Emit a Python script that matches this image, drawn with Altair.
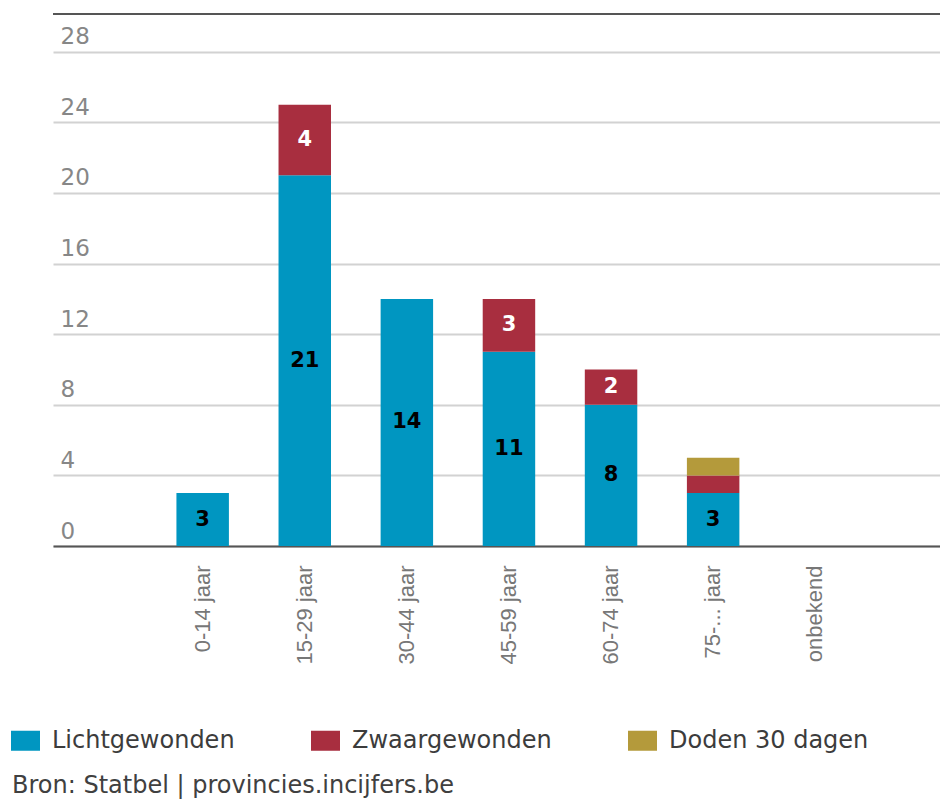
import altair as alt
import pandas as pd

categories = ["0-14 jaar", "15-29 jaar", "30-44 jaar", "45-59 jaar",
              "60-74 jaar", "75-... jaar", "onbekend"]
series = ["Lichtgewonden", "Zwaargewonden", "Doden 30 dagen"]
colors = ["#0096c1", "#a82e3f", "#b49a3b"]
licht = [3, 21, 14, 11, 8, 3, 0]
zwaar = [0, 4, 0, 3, 2, 1, 0]
doden = [0, 0, 0, 0, 0, 1, 0]
y_ticks = [0, 4, 8, 12, 16, 20, 24, 28]
Y_MAX = 30.14
source_text = "Bron: Statbel | provincies.incijfers.be"

rows = []
for idx, (name, vals) in enumerate(zip(series, [licht, zwaar, doden])):
    for cat, v in zip(categories, vals):
        rows.append({"cat": cat, "series": name, "value": v, "idx": idx})
df = pd.DataFrame(rows)

FONT = "DejaVu Sans"

# a leading blank slot keeps the empty space left of the first bar
x_domain = [""] + categories
x_scale = alt.Scale(domain=x_domain, paddingInner=0.486,
                    paddingOuter=0.587, align=0.178)
x_axis = alt.Axis(title=None, labelAngle=270, labelAlign="right",
                  labelBaseline="middle", labelPadding=19, ticks=False,
                  tickSize=0, domainColor="#555555", domainWidth=2,
                  labelFont="Liberation Sans", labelFontSize=22,
                  labelColor="#777777", labelLimit=300, grid=False)
y_scale = alt.Scale(domain=[0, Y_MAX], nice=False, zero=True)
y_axis = alt.Axis(title=None, values=y_ticks, domain=False, ticks=False,
                  tickSize=0, grid=True, gridColor="#d2d2d2",
                  gridWidth=2, labelAlign="left",
                  labelBaseline="alphabetic", labelPadding=-7,
                  labelOffset=-8, labelFont=FONT, labelFontSize=23,
                  labelColor="#878787")

base = alt.Chart(df)

bars = base.mark_bar().encode(
    x=alt.X("cat:N", sort=x_domain, scale=x_scale, axis=x_axis),
    y=alt.Y("value:Q", stack="zero", scale=y_scale, axis=y_axis),
    color=alt.Color(
        "series:N",
        scale=alt.Scale(domain=series, range=colors),
        legend=alt.Legend(
            title=None, orient="none", legendX=-42, legendY=712,
            direction="horizontal",
            symbolType="M-1,-0.69L1,-0.69L1,0.69L-1,0.69Z",
            symbolSize=841, symbolStrokeWidth=0, symbolOpacity=1,
            labelFont=FONT, labelFontSize=24, labelColor="#3c3c3c",
            labelOffset=12, columnPadding=76, labelLimit=400,
        ),
    ),
    order=alt.Order("idx:Q"),
)

labels = (
    base.transform_stack(stack="value", groupby=["cat"], as_=["v0", "v1"],
                         sort=[alt.SortField("idx")])
    .transform_calculate(mid="(datum.v0 + datum.v1) / 2")
    .transform_filter("datum.value > 1")
    .mark_text(font=FONT, fontWeight="bold", fontSize=21, baseline="middle",
               align="center")
    .encode(
        x=alt.X("cat:N", sort=x_domain, scale=x_scale, axis=x_axis),
        y=alt.Y("mid:Q", scale=y_scale, axis=y_axis),
        text="value:Q",
        color=alt.condition("datum.series == 'Lichtgewonden'",
                            alt.value("#000000"), alt.value("#ffffff")),
    )
)

top_rule = (
    alt.Chart(pd.DataFrame({"top": [Y_MAX]}))
    .mark_rule(color="#555555", strokeWidth=2)
    .encode(y=alt.Y("top:Q", scale=y_scale, axis=y_axis))
)

chart = (
    alt.layer(bars, labels, top_rule)
    .properties(
        width=887,
        height=532,
        padding={"left": 45, "top": 6, "right": 0, "bottom": 257},
        autosize=alt.AutoSizeParams(type="none"),
        title=alt.TitleParams(
            source_text, orient="bottom", anchor="start", frame="group",
            dx=-41, offset=21, font=FONT, fontSize=24, fontWeight="normal",
            color="#404040",
        ),
    )
    .configure_view(stroke=None)
)

chart.save("out.html", embed_options={"renderer": "svg", "actions": False})
